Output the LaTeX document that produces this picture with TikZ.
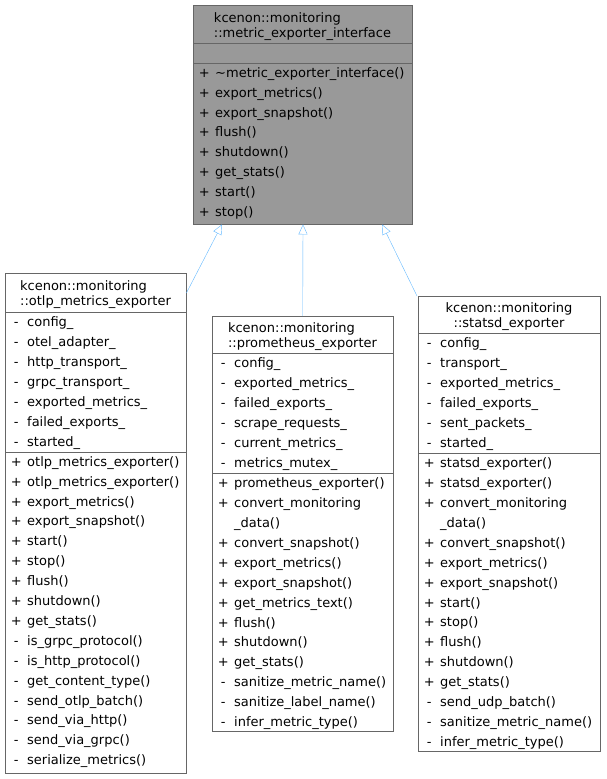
\documentclass[tikz,border=0pt]{standalone}
\usepackage{fontspec}
\setmainfont{DejaVu Sans}
\usetikzlibrary{arrows.meta}
\definecolor{edgeblue}{HTML}{63B8FF}
\definecolor{basegray}{HTML}{999999}
\newcommand{\mb}[2]{\rule{0pt}{10pt}\makebox[9pt][c]{#1}\hspace{6.5pt}#2}
\newcommand{\cont}[1]{\rule{0pt}{10pt}\hspace*{15.5pt}#1}
\tikzset{
  classbox/.style={draw=black!60, inner sep=0, anchor=north west},
  members/.style={inner sep=0, anchor=north west, align=left,
    font=\fontsize{13}{19.9}\selectfont},
  title/.style={inner sep=0, anchor=north, align=left,
    font=\fontsize{13}{15}\selectfont},
  inherit/.style={draw=edgeblue, -{Triangle[open,length=10pt,width=9pt]}}
}
\begin{document}
\begin{tikzpicture}[x=1pt,y=-1pt]
\useasboundingbox (0,0) rectangle (606,779);
% base class
\node[classbox, fill=basegray, minimum width=219pt, minimum height=219pt] (iface) at (193,5) {};
\draw[black!60] (193,43) -- (412,43) (193,63) -- (412,63);
\node[title] (ifacename) at (302.5,12) {\rule{0pt}{10pt}kcenon::monitoring\\::metric\_exporter\_interface};
\node[members] (ifaceops) at (199.5,67) {\mb{+}{\textasciitilde metric\_exporter\_interface()}\\
\mb{+}{export\_metrics()}\\\mb{+}{export\_snapshot()}\\\mb{+}{flush()}\\
\mb{+}{shutdown()}\\\mb{+}{get\_stats()}\\\mb{+}{start()}\\\mb{+}{stop()}};
% otlp
\node[classbox, fill=white, minimum width=181pt, minimum height=500pt] (otlp) at (5,273) {};
\draw[black!60] (5,312) -- (186,312) (5,452) -- (186,452);
\node[title] (otlpname) at (95.5,280) {\rule{0pt}{10pt}kcenon::monitoring\\::otlp\_metrics\_exporter};
\node[members] (otlpattr) at (11.5,316.5) {\mb{-}{config\_}\\\mb{-}{otel\_adapter\_}\\
\mb{-}{http\_transport\_}\\\mb{-}{grpc\_transport\_}\\\mb{-}{exported\_metrics\_}\\
\mb{-}{failed\_exports\_}\\\mb{-}{started\_}};
\node[members] (otlpops) at (11.5,456) {\mb{+}{otlp\_metrics\_exporter()}\\
\mb{+}{otlp\_metrics\_exporter()}\\\mb{+}{export\_metrics()}\\\mb{+}{export\_snapshot()}\\
\mb{+}{start()}\\\mb{+}{stop()}\\\mb{+}{flush()}\\\mb{+}{shutdown()}\\\mb{+}{get\_stats()}\\
\mb{-}{is\_grpc\_protocol()}\\\mb{-}{is\_http\_protocol()}\\\mb{-}{get\_content\_type()}\\
\mb{-}{send\_otlp\_batch()}\\\mb{-}{send\_via\_http()}\\\mb{-}{send\_via\_grpc()}\\
\mb{-}{serialize\_metrics()}};
% prometheus
\node[classbox, fill=white, minimum width=181pt, minimum height=415pt] (prom) at (212,316) {};
\draw[black!60] (212,353) -- (393,353) (212,473) -- (393,473);
\node[title] (promname) at (302.5,322) {\rule{0pt}{10pt}kcenon::monitoring\\::prometheus\_exporter};
\node[members] (promattr) at (218.5,357.5) {\mb{-}{config\_}\\\mb{-}{exported\_metrics\_}\\
\mb{-}{failed\_exports\_}\\\mb{-}{scrape\_requests\_}\\\mb{-}{current\_metrics\_}\\
\mb{-}{metrics\_mutex\_}};
\node[members] (promops) at (218.5,477.5) {\mb{+}{prometheus\_exporter()}\\
\mb{+}{convert\_monitoring}\\\cont{\_data()}\\\mb{+}{convert\_snapshot()}\\
\mb{+}{export\_metrics()}\\\mb{+}{export\_snapshot()}\\\mb{+}{get\_metrics\_text()}\\
\mb{+}{flush()}\\\mb{+}{shutdown()}\\\mb{+}{get\_stats()}\\
\mb{-}{sanitize\_metric\_name()}\\\mb{-}{sanitize\_label\_name()}\\\mb{-}{infer\_metric\_type()}};
% statsd
\node[classbox, fill=white, minimum width=182pt, minimum height=455pt] (statsd) at (418,296) {};
\draw[black!60] (418,333) -- (600,333) (418,453) -- (600,453);
\node[title, align=center] (statsdname) at (509,302) {\rule{0pt}{10pt}kcenon::monitoring\\::statsd\_exporter};
\node[members] (statsdattr) at (424.5,337.5) {\mb{-}{config\_}\\\mb{-}{transport\_}\\
\mb{-}{exported\_metrics\_}\\\mb{-}{failed\_exports\_}\\\mb{-}{sent\_packets\_}\\
\mb{-}{started\_}};
\node[members] (statsdops) at (424.5,457.5) {\mb{+}{statsd\_exporter()}\\
\mb{+}{statsd\_exporter()}\\\mb{+}{convert\_monitoring}\\\cont{\_data()}\\
\mb{+}{convert\_snapshot()}\\\mb{+}{export\_metrics()}\\\mb{+}{export\_snapshot()}\\
\mb{+}{start()}\\\mb{+}{stop()}\\\mb{+}{flush()}\\\mb{+}{shutdown()}\\\mb{+}{get\_stats()}\\
\mb{-}{send\_udp\_batch()}\\\mb{-}{sanitize\_metric\_name()}\\\mb{-}{infer\_metric\_type()}};
% inheritance
\draw[inherit] ([yshift=-20pt]otlp.north east) -- ([xshift=29pt]iface.south west);
\draw[inherit] (prom.north) -- ([xshift=110pt]iface.south west);
\draw[inherit] ([xshift=-1pt]statsd.north west) -- ([xshift=189pt]iface.south west);
\end{tikzpicture}
\end{document}
